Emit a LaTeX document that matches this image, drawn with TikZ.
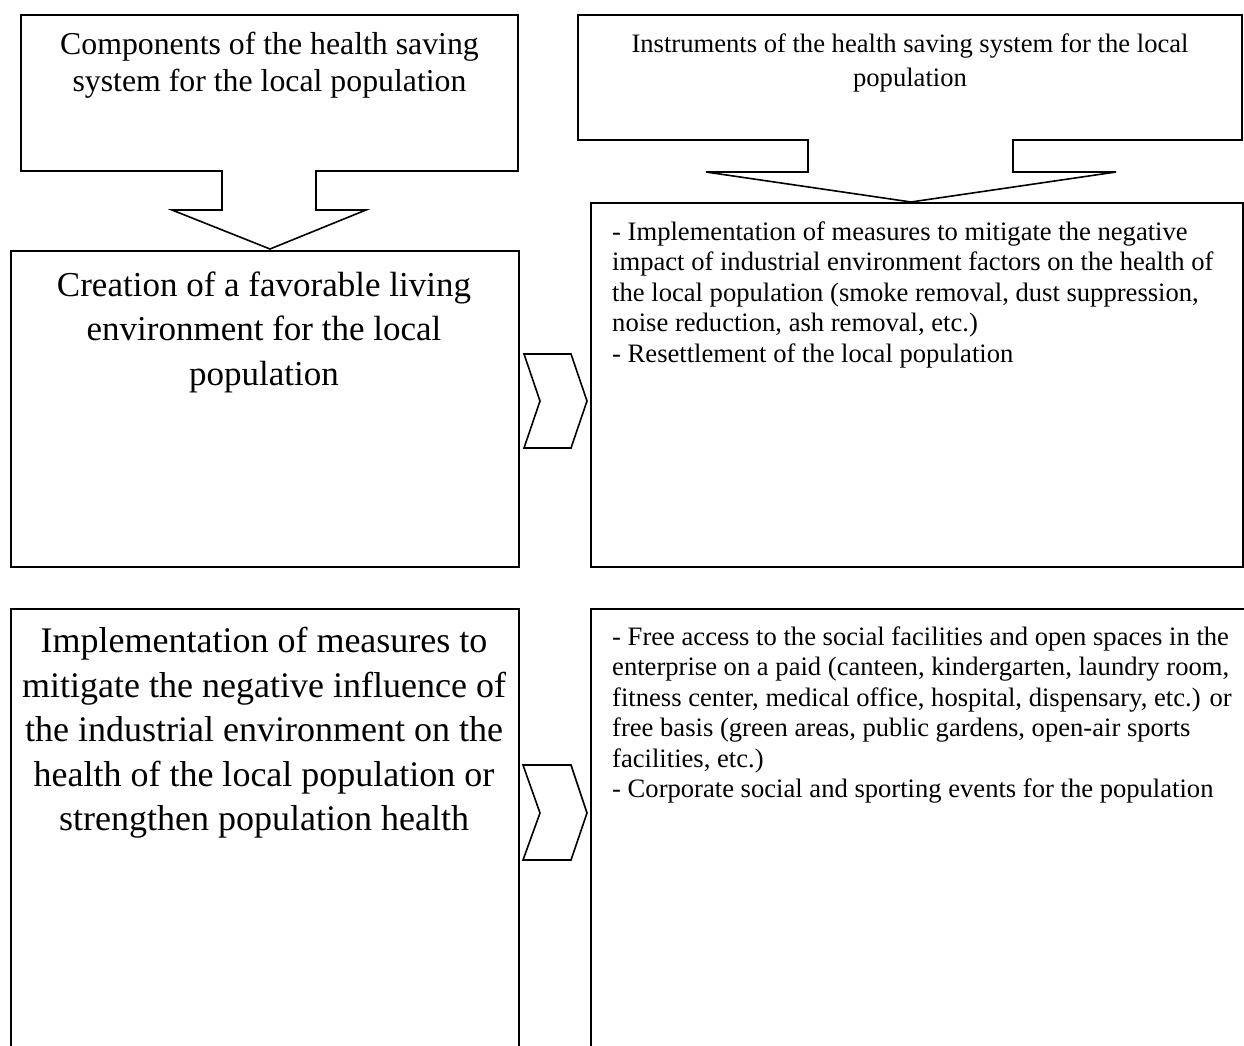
\documentclass[tikz,border=0pt]{standalone}
\usepackage{fontspec}
\setmainfont{Liberation Serif}
\begin{document}
\begin{tikzpicture}[x=1pt,y=-1pt,
  outline/.style={draw=black, line width=1.6pt, line join=miter},
  boxshape/.style={outline, rectangle, inner sep=0pt, anchor=north west},
  headtxt/.style={inner sep=0pt, anchor=north, align=center, font=\fontsize{31.8}{36.5}\selectfont},
  toptxt/.style={inner sep=0pt, anchor=north, align=center, font=\fontsize{26.6}{34}\selectfont},
  bigtxt/.style={inner sep=0pt, anchor=north, align=center, font=\fontsize{35}{44.5}\selectfont},
  bigtxtb/.style={inner sep=0pt, anchor=north, align=center, font=\fontsize{36}{44.5}\selectfont},
  listtxt/.style={inner sep=0pt, anchor=north west, align=left, font=\fontsize{26.6}{30.5}\selectfont}
]
\useasboundingbox (0,0) rectangle (1244,1046);
\clip (0,0) rectangle (1244,1046);

% top-left callout (components)
\draw[outline] (21,15) -- (518,15) -- (518,171) -- (316,171) -- (316,210) -- (366,210)
  -- (270,249) -- (172,210) -- (222,210) -- (222,171) -- (21,171) -- cycle;
\node[headtxt] (comp) at (269.5,32) {Components of the health saving\\system for the local population};

% top-right callout (instruments)
\draw[outline] (578,15) -- (1242,15) -- (1242,140) -- (1013,140) -- (1013,172) -- (1116,172)
  -- (911,202) -- (706,172) -- (808,172) -- (808,140) -- (578,140) -- cycle;
\node[toptxt] (instr) at (910,33.5) {Instruments of the health saving system for the local\\population};

% middle row
\node[boxshape, minimum width=508pt, minimum height=316pt] (create) at (10,250) {};
\node[bigtxt] (createtxt) at (264,271.5) {Creation of a favorable living\\environment for the local\\population};
\draw[outline] (524,354) -- (571,354) -- (587,401) -- (571,448) -- (524,448) -- (540,401) -- cycle;
\node[boxshape, minimum width=652pt, minimum height=364pt] (measures) at (590,202) {};
\node[listtxt] (measurestxt) at (612,221.5) {- Implementation of measures to mitigate the negative\\impact of industrial environment factors on the health of\\the local population (smoke removal, dust suppression,\\noise reduction, ash removal, etc.)\\- Resettlement of the local population};

% bottom row
\node[boxshape, minimum width=508pt, minimum height=460pt] (mitig) at (10,608) {};
\node[bigtxtb] (mitigtxt) at (264,627) {Implementation of measures to\\mitigate the negative influence of\\the industrial environment on the\\health of the local population or\\strengthen population health};
\draw[outline] (523,765) -- (571,765) -- (587,813) -- (571,860) -- (523,860) -- (540,813) -- cycle;
\node[boxshape, minimum width=680pt, minimum height=460pt] (access) at (590,608) {};
\node[listtxt] (accesstxt) at (612,626.5) {- Free access to the social facilities and open spaces in the\\enterprise on a paid (canteen, kindergarten, laundry room,\\fitness center, medical office, hospital, dispensary, etc.) or\\free basis (green areas, public gardens, open-air sports\\facilities, etc.)\\- Corporate social and sporting events for the population};
\end{tikzpicture}
\end{document}
